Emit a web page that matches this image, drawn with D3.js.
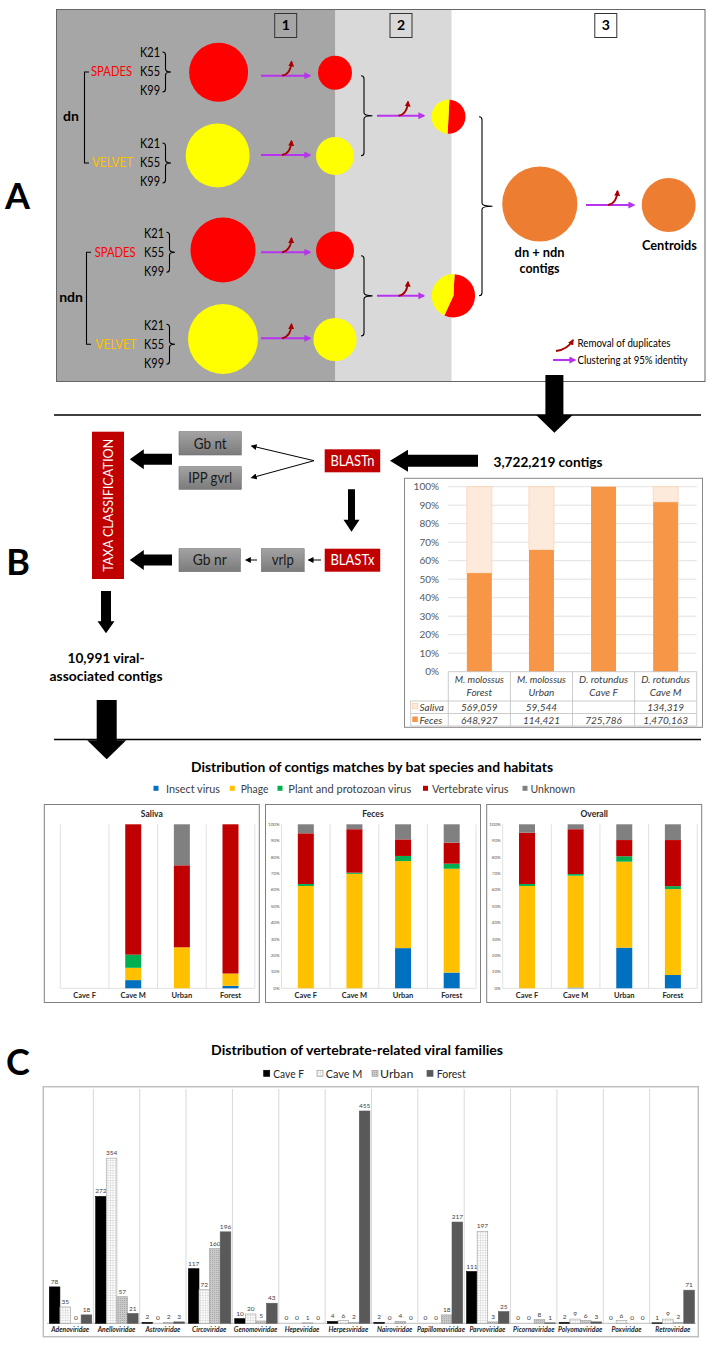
<!DOCTYPE html>
<html><head><meta charset="utf-8">
<script src="https://cdn.jsdelivr.net/npm/d3@7"></script>
<style>body{margin:0;background:#fff} text{font-family:Lato,"Open Sans",sans-serif}</style>
</head><body><svg id="c" width="714" height="1350"></svg>
<script>
// ================= DATA =================
const stepLabels = ["1", "2", "3"];
const strategies = ["dn", "ndn"];
const assemblers = ["SPADES", "VELVET"];
const kmers = ["K21", "K55", "K99"];
const pieRed = [50, 56];      // % red (SPADES) share in merged pies
const pieYellow = [50, 44];   // % yellow (VELVET) share
const mergedLabel = ["dn + ndn", "contigs"];
const centroidLabel = "Centroids";
const legendA = ["Removal of duplicates", "Clustering at 95% identity"];

const flowTop = ["Gb nt", "IPP gvrl"];
const flowBottom = ["Gb nr", "vrlp"];
const contigTotal = "3,722,219 contigs";
const viralLabel = ["10,991 viral-", "associated contigs"];

const bSpecies = ["M. molossus", "M. molossus", "D. rotundus", "D. rotundus"];
const bHabitat = ["Forest", "Urban", "Cave F", "Cave M"];
const salivaContigs = [569059, 59544, null, 134319];
const fecesContigs = [648927, 114421, 725786, 1470163];
const pctTicks = [0, 10, 20, 30, 40, 50, 60, 70, 80, 90, 100];

const distTitle = "Distribution of contigs matches by bat species and habitats";
const panelNames = ["Saliva", "Feces", "Overall"];
const habitats = ["Cave F", "Cave M", "Urban", "Forest"];
const virusTypes = ["Insect virus", "Phage", "Plant and protozoan virus", "Vertebrate virus", "Unknown"];
// rows = habitats, columns = virus types (%)
const salivaPct = [[0, 0, 0, 0, 0], [5, 7.5, 8, 79.5, 0], [0, 25, 0, 50, 25], [1.5, 7.5, 0, 91, 0]];
const fecesPct = [[0, 62.4, 1.2, 30.9, 5.5], [0, 69.8, 0.7, 26.5, 3.0], [24.5, 53.1, 3.1, 10.1, 9.2], [9.6, 63.3, 3.1, 12.8, 11.2]];
const overallPct = [[0, 62.4, 1.2, 31.3, 5.1], [0.4, 68.3, 1.0, 27.3, 3.0], [24.8, 52.4, 3.3, 9.9, 9.6], [8.1, 52.4, 1.8, 28.1, 9.6]];

const famTitle = "Distribution of vertebrate-related viral families";
const families = ["Adenoviridae", "Anelloviridae", "Astroviridae", "Circoviridae", "Genomoviridae", "Hepeviridae", "Herpesviridae", "Nairoviridae", "Papillomaviridae", "Parvoviridae", "Picornaviridae", "Polyomaviridae", "Poxviridae", "Retroviridae"];
const famSeries = ["Cave F", "Cave M", "Urban", "Forest"];
const caveF = [78, 272, 2, 117, 10, 0, 4, 2, 0, 111, 0, 2, 0, 1];
const caveM = [35, 354, 0, 72, 20, 0, 6, 0, 0, 197, 0, 9, 6, 9];
const urban = [0, 57, 2, 160, 5, 1, 2, 4, 18, 3, 8, 6, 0, 2];
const forest = [18, 21, 3, 196, 43, 0, 455, 0, 217, 25, 1, 3, 0, 71];

// ================= DRAW =================
const svg = d3.select("#c");
svg.append("rect").attr("width", 714).attr("height", 1350).attr("fill", "#fff");
const defs = svg.append("defs");
function marker(id, color, size) {
  defs.append("marker").attr("id", id).attr("viewBox", "0 0 10 10").attr("refX", 8).attr("refY", 5)
    .attr("markerWidth", size).attr("markerHeight", size).attr("orient", "auto").attr("markerUnits", "userSpaceOnUse")
    .append("path").attr("d", "M0,0 L10,5 L0,10 z").attr("fill", color);
}
marker("mg", "#b833f0", 7); marker("rd", "#a80000", 6); marker("bk", "#000", 6);
const grayGrad = defs.append("linearGradient").attr("id", "gg").attr("x1", 0).attr("y1", 0).attr("x2", 0).attr("y2", 1);
grayGrad.append("stop").attr("offset", 0).attr("stop-color", "#a3a3a3");
grayGrad.append("stop").attr("offset", 1).attr("stop-color", "#7b7b7b");
const pM = defs.append("pattern").attr("id", "pm").attr("width", 2.5).attr("height", 2.5).attr("patternUnits", "userSpaceOnUse");
pM.append("rect").attr("width", 2.5).attr("height", 2.5).attr("fill", "#fff");
pM.append("path").attr("d", "M0,0.25 H2.5 M0.25,0 V2.5").attr("stroke", "#c8c8c8").attr("stroke-width", 0.5);
const pU = defs.append("pattern").attr("id", "pu").attr("width", 2).attr("height", 2).attr("patternUnits", "userSpaceOnUse");
pU.append("rect").attr("width", 2).attr("height", 2).attr("fill", "#c9c9c9");
pU.append("rect").attr("width", 1).attr("height", 1).attr("fill", "#a9a9a9");
const famFill = ["#000000", "url(#pm)", "url(#pu)", "#595959"];
const famStroke = ["#000", "#a0a0a0", "#a0a0a0", "#595959"];

function fit(sel, w) { return sel.attr("textLength", w).attr("lengthAdjust", "spacingAndGlyphs"); }
function txt(x, y, s, size, opt = {}) {
  const t = svg.append("text").attr("x", x).attr("y", y).attr("dy", "0.35em").text(s)
    .attr("font-size", size).attr("text-anchor", opt.anchor || "middle")
    .attr("font-weight", opt.bold ? "bold" : "normal").attr("fill", opt.fill || "#000");
  if (opt.italic) t.attr("font-style", "italic");
  if (opt.w) fit(t, opt.w);
  return t;
}
function brace(x, y1, y2, tip, col) {
  const ym = (y1 + y2) / 2;
  svg.append("path").attr("fill", "none").attr("stroke", col || "#000").attr("stroke-width", 1.1)
    .attr("d", `M${x - 3},${y1} Q${x},${y1} ${x},${y1 + 3} L${x},${ym - 3} Q${x},${ym} ${tip},${ym} Q${x},${ym} ${x},${ym + 3} L${x},${y2 - 3} Q${x},${y2} ${x - 3},${y2}`);
}
function magArrow(x1, x2, y) {
  svg.append("line").attr("x1", x1).attr("x2", x2).attr("y1", y).attr("y2", y)
    .attr("stroke", "#b833f0").attr("stroke-width", 2).attr("marker-end", "url(#mg)");
}
function dupArrow(x, y) {
  svg.append("path").attr("fill", "none").attr("stroke", "#a80000").attr("stroke-width", 1.8)
    .attr("d", `M${x},${y} C${x + 6},${y - 1} ${x + 9},${y - 6} ${x + 9.5},${y - 14}`).attr("marker-end", "url(#rd)");
}
function bigArrow(x1, y1, x2, y2, sh, hh, hl) {
  // shaft from (x1,y1) to tip (x2,y2)
  const a = Math.atan2(y2 - y1, x2 - x1), L = Math.hypot(x2 - x1, y2 - y1);
  const pts = [[0, -sh], [L - hl, -sh], [L - hl, -hh], [L, 0], [L - hl, hh], [L - hl, sh], [0, sh]];
  svg.append("path").attr("fill", "#000")
    .attr("d", "M" + pts.map(p => [x1 + p[0] * Math.cos(a) - p[1] * Math.sin(a), y1 + p[0] * Math.sin(a) + p[1] * Math.cos(a)].join(",")).join("L") + "Z");
}

// ---------- Panel A ----------
svg.append("rect").attr("x", 56.5).attr("y", 9.5).attr("width", 279).attr("height", 372).attr("fill", "#a6a6a6");
svg.append("rect").attr("x", 335.5).attr("y", 9.5).attr("width", 116).attr("height", 372).attr("fill", "#d9d9d9");
svg.append("rect").attr("x", 56.5).attr("y", 9.5).attr("width", 648.5).attr("height", 372).attr("fill", "none").attr("stroke", "#666").attr("stroke-width", 1);
const stepX = [285.7, 401, 605.8];
stepLabels.forEach((s, i) => {
  svg.append("rect").attr("x", stepX[i] - 11).attr("y", 13.5).attr("width", 22).attr("height", 24)
    .attr("fill", "none").attr("stroke", "#333").attr("stroke-width", 1);
  txt(stepX[i], 25.5, s, 14, { bold: true });
});
txt(17.5, 196, "A", 36, { bold: true });

const textY = [72, 163, 252.3, 344.3];
const circY = [72.3, 155.5, 250, 339];
const arrY = [75.7, 155, 252.3, 338.3];
const bigX = [218.6, 217.7, 223, 223], bigR = [29.5, 32, 32.5, 35], smallR = [17, 19, 19, 21.6];
const asmX = [91, 92, 94.7, 95.6], kX = [140, 140, 144, 144];
const asmCol = ["#ff0000", "#ffc000"], circCol = ["#ff0000", "#ffff00"];
for (let r = 0; r < 4; r++) {
  const a = r % 2;
  txt(asmX[r], textY[r], assemblers[a], 12.5, { anchor: "start", fill: asmCol[a], w: 41 });
  kmers.forEach((k, j) => txt(kX[r], textY[r] + (j - 1) * 19, k, 12.5, { anchor: "start", w: 20 }));
  brace(kX[r] + 25.5, textY[r] - 20, textY[r] + 20, kX[r] + 31);
  svg.append("circle").attr("cx", bigX[r]).attr("cy", circY[r]).attr("r", bigR[r]).attr("fill", circCol[a]);
  magArrow(261, 310, arrY[r]);
  dupArrow(282, arrY[r]);
  svg.append("circle").attr("cx", 335).attr("cy", circY[r] + 0.5).attr("r", smallR[r]).attr("fill", circCol[a]);
}
strategies.forEach((s, i) => {
  const y1 = textY[i * 2], y2 = textY[i * 2 + 1], bx = i ? 86.5 : 84.5;
  svg.append("path").attr("fill", "none").attr("stroke", "#000").attr("stroke-width", 1.1)
    .attr("d", `M${bx + 4.5},${y1} H${bx} V${y2} H${bx + 4.5}`);
  txt(71, (y1 + y2) / 2 - 1.5, s, 14, { bold: true });
});
// stage 2
const pieC = [[448.5, 116.7, 17], [453.4, 295.8, 21.7]];
const pie = d3.pie().sort(null).startAngle(3 * Math.PI / 180).endAngle(2 * Math.PI + 3 * Math.PI / 180);
[[75.7, 155.7], [255.7, 336]].forEach(([y1, y2], i) => {
  brace(364, y1, y2, 372.5);
  const ym = (y1 + y2) / 2;
  magArrow(377, 424, ym);
  dupArrow(398.5, ym);
  const g = svg.append("g").attr("transform", `translate(${pieC[i][0]},${pieC[i][1]})`);
  g.selectAll("path").data(pie([pieRed[i], pieYellow[i]])).join("path")
    .attr("d", d3.arc().innerRadius(0).outerRadius(pieC[i][2])).attr("fill", (d, j) => j ? "#ffff00" : "#ff0000");
});
brace(482, 116.7, 295.7, 492.5);
svg.append("circle").attr("cx", 539.8).attr("cy", 204).attr("r", 37.6).attr("fill", "#ed7d31");
magArrow(586, 634, 205);
dupArrow(608, 205);
svg.append("circle").attr("cx", 668.7).attr("cy", 205).attr("r", 27).attr("fill", "#ed7d31");
txt(539.6, 252.3, mergedLabel[0], 14, { bold: true, w: 50 });
txt(539.6, 268.3, mergedLabel[1], 14, { bold: true, w: 40 });
txt(669.4, 245, centroidLabel, 14, { bold: true, w: 55 });
// legend A
svg.append("path").attr("fill", "none").attr("stroke", "#a80000").attr("stroke-width", 1.8)
  .attr("d", "M556,351 C564,350 569,347 573,340").attr("marker-end", "url(#rd)");
txt(577.5, 343.3, legendA[0], 11, { anchor: "start", w: 93 });
svg.append("line").attr("x1", 553).attr("x2", 575).attr("y1", 360).attr("y2", 360).attr("stroke", "#b833f0").attr("stroke-width", 2).attr("marker-end", "url(#mg)");
txt(577.5, 360, legendA[1], 11, { anchor: "start", w: 110 });

// separator + arrow A->B
svg.append("line").attr("x1", 54).attr("x2", 701).attr("y1", 415).attr("y2", 415).attr("stroke", "#000").attr("stroke-width", 1.5);
bigArrow(554.4, 375, 554.4, 432.7, 9, 18.3, 17.7);

// ---------- Panel B flow ----------
txt(18, 562, "B", 36, { bold: true });
svg.append("rect").attr("x", 92).attr("y", 431.7).attr("width", 32).attr("height", 147.3).attr("fill", "#c00000");
svg.append("text").attr("transform", "translate(108.5,505.3) rotate(-90)").attr("dy", "0.35em").attr("text-anchor", "middle")
  .attr("font-size", 13.5).attr("fill", "#fff").text("TAXA CLASSIFICATION").attr("textLength", 133).attr("lengthAdjust", "spacingAndGlyphs");
function grayBox(x, y, w, h, s, tw) {
  svg.append("rect").attr("x", x).attr("y", y).attr("width", w).attr("height", h).attr("fill", "url(#gg)").attr("stroke", "#707070").attr("stroke-width", 0.6);
  txt(x + w / 2, y + h / 2, s, 15, { fill: "#1a1a1a", w: tw });
}
function redBox(x, y, w, h, s, tw) {
  svg.append("rect").attr("x", x).attr("y", y).attr("width", w).attr("height", h).attr("fill", "#c00000");
  txt(x + w / 2, y + h / 2, s, 15, { fill: "#fff", w: tw });
}
grayBox(179, 431.7, 62.3, 23.3, flowTop[0], 33);
grayBox(179, 466.7, 62.3, 22.6, flowTop[1], 44);
grayBox(179, 548.7, 61.4, 23, flowBottom[0], 34);
grayBox(261.4, 548.7, 42.8, 23, flowBottom[1], 22);
redBox(324.7, 449.3, 55.5, 23, "BLASTn", 44);
redBox(324.7, 548.7, 55.5, 23, "BLASTx", 44);
[[251.8, 446], [251.8, 477.7]].forEach(([x, y]) => svg.append("line").attr("x1", 314).attr("y1", 460.7).attr("x2", x).attr("y2", y)
  .attr("stroke", "#000").attr("stroke-width", 1).attr("marker-end", "url(#bk)"));
[[321, 308.7], [257, 246]].forEach(([x1, x2]) => svg.append("line").attr("x1", x1).attr("y1", 560).attr("x2", x2).attr("y2", 560)
  .attr("stroke", "#000").attr("stroke-width", 1).attr("marker-end", "url(#bk)"));
bigArrow(172, 459.3, 129.8, 459.3, 5.5, 10, 14);
bigArrow(172, 560, 129.8, 560, 5.5, 10, 14);
bigArrow(478, 460.7, 390, 460.7, 6, 11, 18);
bigArrow(351.5, 489.3, 351.5, 531.7, 3.5, 8, 12);
bigArrow(106, 591, 106, 633.3, 5, 8.5, 12);
txt(548, 462, contigTotal, 14, { bold: true, w: 109 });
txt(106, 658.3, viralLabel[0], 14, { bold: true, w: 77 });
txt(106, 676, viralLabel[1], 14, { bold: true, w: 113 });
bigArrow(106.7, 700, 106.7, 759.3, 10, 19.5, 19);
svg.append("line").attr("x1", 54).attr("x2", 701).attr("y1", 739.5).attr("y2", 739.5).attr("stroke", "#000").attr("stroke-width", 1.5);

// ---------- Panel B chart ----------
svg.append("rect").attr("x", 404.5).attr("y", 478.3).attr("width", 298).attr("height", 249).attr("fill", "#fff").attr("stroke", "#888").attr("stroke-width", 1);
const bx = d3.scaleBand().domain(d3.range(4)).range([448.3, 696.7]);
const by = d3.scaleLinear().domain([0, 100]).range([671.7, 486.7]);
pctTicks.forEach(t => {
  if (t > 0) svg.append("line").attr("x1", 448.3).attr("x2", 696.7).attr("y1", by(t)).attr("y2", by(t)).attr("stroke", "#d9d9d9").attr("stroke-width", 0.8);
  txt(439, by(t), t + "%", 10, { anchor: "end", fill: "#595959" });
});
d3.range(4).forEach(i => {
  const tot = (salivaContigs[i] || 0) + fecesContigs[i];
  const fp = fecesContigs[i] / tot * 100;
  const cx = bx(i) + bx.bandwidth() / 2, w = 25;
  if (salivaContigs[i]) svg.append("rect").attr("x", cx - w / 2).attr("y", by(100)).attr("width", w).attr("height", by(fp) - by(100))
    .attr("fill", "#fdeada").attr("stroke", "#fbd4b4").attr("stroke-width", 0.8);
  svg.append("rect").attr("x", cx - w / 2).attr("y", by(fp)).attr("width", w).attr("height", by(0) - by(fp)).attr("fill", "#f79646");
  txt(cx, 679.5, bSpecies[i], 10, { italic: true, fill: "#404040", w: 49 });
  txt(cx, 692, bHabitat[i], 10, { italic: true, fill: "#404040" });
  txt(cx, 707.3, salivaContigs[i] ? d3.format(",")(salivaContigs[i]) : "", 10, { italic: true, fill: "#404040" });
  txt(cx, 720, d3.format(",")(fecesContigs[i]), 10, { italic: true, fill: "#404040" });
});
const tl = "#bfbfbf";
[[448.3, 696.7, 671.7], [410.7, 696.7, 701], [410.7, 696.7, 713.5], [410.7, 696.7, 726]].forEach(([a, b, y]) =>
  svg.append("line").attr("x1", a).attr("x2", b).attr("y1", y).attr("y2", y).attr("stroke", tl).attr("stroke-width", 0.8));
svg.append("line").attr("x1", 410.7).attr("x2", 410.7).attr("y1", 701).attr("y2", 726).attr("stroke", tl).attr("stroke-width", 0.8);
[0, 1, 2, 3, 4].forEach(i => {
  const x = i < 4 ? bx(i) : 696.7;
  svg.append("line").attr("x1", x).attr("x2", x).attr("y1", 671.7).attr("y2", 726).attr("stroke", tl).attr("stroke-width", 0.8);
});
svg.append("rect").attr("x", 412.3).attr("y", 703.3).attr("width", 5.5).attr("height", 5.5).attr("fill", "#fdeada").attr("stroke", "#f9c9a0").attr("stroke-width", 0.6);
svg.append("rect").attr("x", 412.3).attr("y", 716.5).attr("width", 5.5).attr("height", 5.5).attr("fill", "#f79646");
txt(419.5, 707.3, "Saliva", 10, { anchor: "start", italic: true, fill: "#404040" });
txt(419.5, 720, "Feces", 10, { anchor: "start", italic: true, fill: "#404040" });

// ---------- Distribution of contigs ----------
const vCol = ["#0070c0", "#ffc000", "#00b050", "#c00000", "#808080"];
txt(372, 766.7, distTitle, 14, { bold: true, w: 362 });
const legXs = [[156, 166, 54], [232.3, 240.7, 27.7], [280, 288.3, 123], [425.5, 432, 76.5], [525, 530.5, 44.5]];
virusTypes.forEach((v, i) => {
  svg.append("rect").attr("x", legXs[i][0] - 2.5).attr("y", 785.8).attr("width", 5).attr("height", 5).attr("fill", vCol[i]);
  txt(legXs[i][1], 788.3, v, 12, { anchor: "start", fill: "#404040", w: legXs[i][2] });
});
const panelL = [44.3, 265.5, 486.7];
const panelData = [salivaPct, fecesPct, overallPct];
const dy = d3.scaleLinear().domain([0, 100]).range([988.3, 824.3]);
const stack = d3.stack().keys(d3.range(5));
panelNames.forEach((name, p) => {
  const L = panelL[p];
  svg.append("rect").attr("x", L).attr("y", 804.5).attr("width", 215).attr("height", 198).attr("fill", "#fff").attr("stroke", "#7f7f7f").attr("stroke-width", 1);
  txt(L + 107.5, 814, name, 8.5, { bold: true, fill: "#262626" });
  const dx = d3.scaleBand().domain(habitats).range([L + 16, L + 210.5]);
  if (p > 0) pctTicks.forEach(t => txt(L + 14, dy(t), t + "%", 4.5, { anchor: "end", fill: "#595959" }));
  [0, 1, 2, 3, 4].forEach(i => {
    const x = L + 16 + i * dx.bandwidth();
    svg.append("line").attr("x1", x).attr("x2", x).attr("y1", 824.3).attr("y2", 988.3).attr("stroke", "#d9d9d9").attr("stroke-width", 0.8);
  });
  svg.append("line").attr("x1", L + 16).attr("x2", L + 210.5).attr("y1", 988.3).attr("y2", 988.3).attr("stroke", "#d9d9d9").attr("stroke-width", 0.8);
  const series = stack(panelData[p]);
  const bw = 16;
  series.forEach((s, k) => {
    svg.append("g").selectAll("rect").data(s).join("rect")
      .attr("x", (d, i) => dx(habitats[i]) + dx.bandwidth() / 2 - bw / 2).attr("width", bw)
      .attr("y", d => dy(d[1])).attr("height", d => dy(d[0]) - dy(d[1])).attr("fill", vCol[k]);
  });
  habitats.forEach(h => txt(dx(h) + dx.bandwidth() / 2, 995, h, 7.5, { bold: true, fill: "#262626" }));
});

// ---------- Panel C ----------
txt(18, 1062, "C", 36, { bold: true });
txt(357, 1050, famTitle, 14, { bold: true, w: 292 });
const legC = [[266.7, 273.3, 30.7], [320, 325.7, 36.6], [375, 380, 33.3], [430, 436.7, 29]];
famSeries.forEach((s, i) => {
  svg.append("rect").attr("x", legC[i][0] - 3).attr("y", 1070.3).attr("width", 6).attr("height", 6).attr("fill", famFill[i]).attr("stroke", famStroke[i]).attr("stroke-width", 0.7);
  txt(legC[i][1], 1073.3, s, 12, { anchor: "start", fill: "#262626", w: legC[i][2] });
});
svg.append("rect").attr("x", 43.3).attr("y", 1086.7).attr("width", 655).attr("height", 250).attr("fill", "none").attr("stroke", "#bfbfbf").attr("stroke-width", 1.5);
const cx0 = d3.scaleBand().domain(families).range([47, 696]);
const cx1 = d3.scaleBand().domain(d3.range(4)).range([2.3, cx0.bandwidth() - 1.6]);
const cy = d3.scaleLinear().domain([0, 500]).range([1323.3, 1090]);
families.forEach((f, i) => {
  if (i > 0) svg.append("line").attr("x1", cx0(f)).attr("x2", cx0(f)).attr("y1", 1089).attr("y2", 1323.3).attr("stroke", "#d9d9d9").attr("stroke-width", 1);
});
svg.append("line").attr("x1", 47).attr("x2", 696).attr("y1", 1323.3).attr("y2", 1323.3).attr("stroke", "#bfbfbf").attr("stroke-width", 1);
const famVals = [caveF, caveM, urban, forest];
famVals.forEach((vals, k) => {
  const g = svg.append("g");
  g.selectAll("rect").data(vals).join("rect")
    .attr("x", (d, i) => cx0(families[i]) + cx1(k)).attr("width", cx1.bandwidth())
    .attr("y", d => cy(d)).attr("height", d => cy(0) - cy(d))
    .attr("fill", famFill[k]).attr("stroke", famStroke[k]).attr("stroke-width", 0.6);
  g.selectAll("text").data(vals).join("text")
    .attr("x", (d, i) => cx0(families[i]) + cx1(k) + cx1.bandwidth() / 2).attr("y", d => cy(d) - 3)
    .attr("text-anchor", "middle").attr("font-size", 6.5).attr("fill", "#404040").text(d => d);
});
families.forEach(f => txt(cx0(f) + cx0.bandwidth() / 2, 1329.5, f, 6.8, { bold: true, italic: true, fill: "#262626" }));
</script></body></html>
